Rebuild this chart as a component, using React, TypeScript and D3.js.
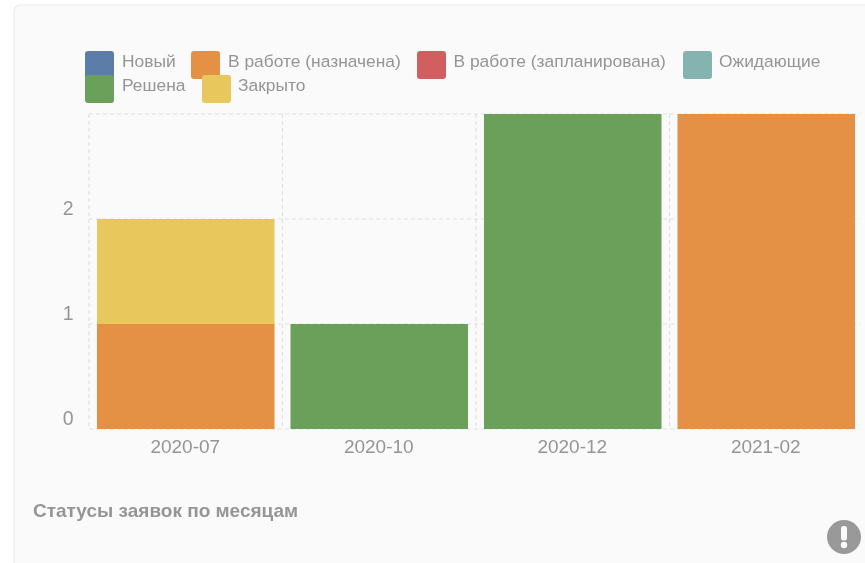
import React from "react";
import * as d3 from "d3";

const months = ["2020-07", "2020-10", "2020-12", "2021-02"];
const statuses = ["Новый", "В работе (назначена)", "В работе (запланирована)", "Ожидающие", "Решена", "Закрыто"];
const colors = ["#5b7da8", "#e59144", "#d25f5f", "#85b4b0", "#6aa05a", "#e8c85c"];
const newCounts = [0, 0, 0, 0];
const assignedCounts = [1, 0, 0, 3];
const plannedCounts = [0, 0, 0, 0];
const waitingCounts = [0, 0, 0, 0];
const resolvedCounts = [0, 1, 3, 0];
const closedCounts = [1, 0, 0, 0];
const seriesCounts = [newCounts, assignedCounts, plannedCounts, waitingCounts, resolvedCounts, closedCounts];
const yTicks = [0, 1, 2];
const yGrid = [0, 1, 2, 3];

// Legend entries wrap over two rows; each row holds its own swatch offsets.
const legendRows = [
  { y: 51, items: [{ i: 0, x: 85, tx: 122 }, { i: 1, x: 191, tx: 228 }, { i: 2, x: 417, tx: 453.5 }, { i: 3, x: 683, tx: 719 }] },
  { y: 75, items: [{ i: 4, x: 85, tx: 122 }, { i: 5, x: 202, tx: 238 }] },
];

const WIDTH = 865;
const HEIGHT = 563;
const TEXT = "#959595";
const GRID = "#dfe1e1";
const FONT = "'Liberation Sans', Arial, sans-serif";

export default function App() {
  const x = d3.scaleBand<string>().domain(months).range([89, 863]).paddingInner(0.0827).paddingOuter(0.0413);
  const bandX = d3.scaleBand<string>().domain(months).range([89, 863]);
  const y = d3.scaleLinear().domain([0, 3]).range([429, 114]);

  const rows = months.map((m, mi) => {
    const row: Record<string, number | string> = { month: m };
    statuses.forEach((s, si) => (row[s] = seriesCounts[si][mi]));
    return row;
  });
  const stacked = d3.stack<Record<string, number | string>>().keys(statuses)(rows as any);

  return (
    <svg
      width={WIDTH}
      height={HEIGHT}
      viewBox={`0 0 ${WIDTH} ${HEIGHT}`}
      style={{ position: "absolute", left: 0, top: 0, background: "#ffffff" }}
      fontFamily={FONT}
    >
      <defs>
        <filter id="soft" x="-2%" y="-2%" width="104%" height="104%">
          <feGaussianBlur stdDeviation="0.4" />
        </filter>
      </defs>

      {/* Card background */}
      <rect x={14} y={5} width={870} height={580} rx={6} fill="#fafafa" stroke="#ececec" strokeWidth={1.2} />

      <g filter="url(#soft)">
        {/* Dashed grid */}
        {yGrid.map((t) => (
          <line key={t} x1={89} x2={860} y1={y(t)} y2={y(t)} stroke={GRID} strokeWidth={1.2} strokeDasharray="4 3" />
        ))}
        {months.map((m) => (
          <line
            key={m}
            x1={bandX(m)}
            x2={bandX(m)}
            y1={114}
            y2={429}
            stroke={GRID}
            strokeWidth={1.2}
            strokeDasharray="4 3"
          />
        ))}

        {/* Stacked bars */}
        {stacked.map((layer, si) =>
          layer.map((d, mi) =>
            d[1] > d[0] ? (
              <rect
                key={`${si}-${mi}`}
                x={x(months[mi])}
                y={y(d[1])}
                width={x.bandwidth()}
                height={y(d[0]) - y(d[1])}
                fill={colors[si]}
              />
            ) : null
          )
        )}

        {/* Axis labels */}
        {yTicks.map((t) => (
          <text key={t} x={73.5} y={y(t) - 4.5} textAnchor="end" fontSize={19.5} fill={TEXT}>
            {t}
          </text>
        ))}
        {months.map((m) => (
          <text
            key={m}
            x={(bandX(m) as number) + bandX.bandwidth() / 2 - 0.5}
            y={452.5}
            textAnchor="middle"
            fontSize={19}
            fill={TEXT}
          >
            {m}
          </text>
        ))}

        {/* Legend */}
        {legendRows.map((row) =>
          row.items.map((it) => (
            <g key={it.i}>
              <rect x={it.x} y={row.y} width={29} height={28} rx={3} fill={colors[it.i]} />
              <text x={it.tx} y={row.y + 15.5} fontSize={17.4} fill={TEXT}>
                {statuses[it.i]}
              </text>
            </g>
          ))
        )}

        {/* Title */}
        <text x={33} y={517} fontSize={19} fontWeight={700} fill={TEXT}>
          Статусы заявок по месяцам
        </text>

        {/* Notice badge */}
        <circle cx={844} cy={537} r={17} fill="#999999" />
        <rect x={841} y={526} width={6} height={14.5} rx={2.5} fill="#fafafa" />
        <circle cx={844} cy={545} r={3.2} fill="#fafafa" />
      </g>
    </svg>
  );
}
